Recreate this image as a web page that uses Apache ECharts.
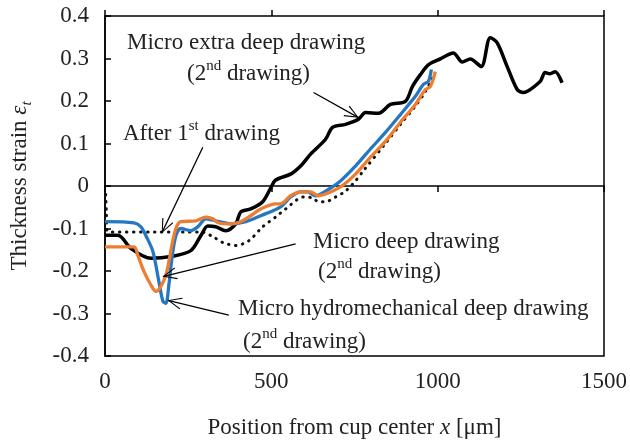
<!DOCTYPE html>
<html>
<head>
<meta charset="utf-8">
<script src="https://cdn.jsdelivr.net/npm/echarts@6/dist/echarts.min.js"></script>
<style>
html,body{margin:0;padding:0;background:#fff;}
#c{width:630px;height:444px;}
</style>
</head>
<body>
<div id="c"></div>
<script>
// ---- data (x in μm, thickness strain) ----
const extraDeep = [[0,-0.116],[39,-0.116],[78,-0.147],[138,-0.170],[198,-0.166],[258,-0.152],[288,-0.117],[309,-0.094],[333,-0.096],[363,-0.105],[393,-0.089],[408,-0.061],[438,-0.054],[474,-0.037],[498,-0.005],[513,0.014],[558,0.028],[588,0.047],[618,0.075],[663,0.110],[684,0.138],[723,0.145],[762,0.157],[783,0.173],[822,0.171],[858,0.192],[903,0.199],[924,0.234],[948,0.262],[972,0.285],[1008,0.299],[1047,0.313],[1074,0.292],[1098,0.299],[1131,0.281],[1158,0.349],[1179,0.337],[1209,0.281],[1239,0.227],[1257,0.220],[1308,0.246],[1323,0.267],[1338,0.264],[1353,0.269],[1374,0.243]];
const hydroDeep = [[0,-0.084],[87,-0.087],[108,-0.096],[123,-0.117],[144,-0.154],[162,-0.225],[174,-0.271],[183,-0.276],[192,-0.233],[201,-0.171],[213,-0.117],[228,-0.100],[258,-0.105],[279,-0.096],[303,-0.077],[333,-0.082],[378,-0.089],[423,-0.084],[468,-0.070],[528,-0.049],[558,-0.026],[588,-0.014],[609,-0.014],[633,-0.023],[663,-0.012],[708,0.012],[753,0.047],[798,0.087],[843,0.126],[888,0.168],[933,0.211],[957,0.239],[972,0.246],[981,0.274]];
const microDeep = [[0,-0.143],[87,-0.143],[99,-0.164],[117,-0.201],[138,-0.233],[153,-0.248],[168,-0.236],[183,-0.210],[192,-0.178],[201,-0.140],[213,-0.100],[228,-0.084],[273,-0.082],[303,-0.073],[324,-0.077],[342,-0.087],[378,-0.089],[408,-0.084],[438,-0.070],[468,-0.054],[513,-0.042],[528,-0.042],[558,-0.023],[588,-0.014],[618,-0.014],[642,-0.023],[663,-0.019],[708,-0.002],[753,0.028],[798,0.068],[843,0.105],[888,0.150],[933,0.192],[963,0.227],[978,0.234],[993,0.269]];
const firstDrawing = [[2,-0.02],[4,-0.06],[6,-0.105],[15,-0.108],[150,-0.108],[288,-0.108],[324,-0.119],[354,-0.133],[393,-0.140],[432,-0.129],[474,-0.096],[513,-0.073],[543,-0.054],[597,-0.026],[624,-0.028],[642,-0.037],[663,-0.037],[693,-0.026],[723,-0.012],[753,0.012],[774,0.033],[843,0.100],[888,0.145],[933,0.188],[963,0.222],[990,0.262]];
// annotation arrows: [from, to] in data coordinates
const arrowLines = [
  [[627,0.220],[762,0.161]],
  [[294,0.091],[171,-0.110]],
  [[573,-0.136],[174,-0.213]],
  [[372,-0.304],[189,-0.269]]
];
const xTicks = {min:0, max:1500, interval:500};
const yTicks = {min:-0.4, max:0.4, interval:0.1};

const FONT = '"Liberation Serif","Times New Roman",serif';
const TXT = '#222';
const chevron = 'path://M0,0 L0.01,0 L0.01,0.01 Z M0,14 L6,28 L5,28.6 L0,16.4 L-5,28.6 L-6,28 Z';

const chart = echarts.init(document.getElementById('c'), null, {renderer:'canvas'});

const rich = {
  n:{fontFamily:FONT,fontSize:23,color:TXT,lineHeight:26,verticalAlign:'bottom'},
  s:{fontFamily:FONT,fontSize:15,color:TXT,lineHeight:26,verticalAlign:'top',padding:[0,0,0,0]}
};
function txt(left, cy, str){
  return {type:'text', left:left, top:cy-13, silent:true,
    style:{text:str, rich:rich, font:'23px '+FONT, fill:TXT}};
}

const option = {
  animation:false,
  backgroundColor:'#fff',
  grid:{left:104,right:26,top:16,bottom:86,show:true,borderColor:'#000',borderWidth:1.5,backgroundColor:'transparent'},
  xAxis:[
    {type:'value',min:xTicks.min,max:xTicks.max,interval:xTicks.interval,position:'bottom',
     axisLine:{show:false,onZero:false},axisTick:{show:false},splitLine:{show:false},
     axisLabel:{margin:14,fontFamily:FONT,fontSize:23,color:TXT,formatter:v=>String(v)},
     name:'{n|Position from cup center }{i|x}{n| [μm]}',nameLocation:'middle',nameGap:60,
     nameTextStyle:{rich:{n:{fontFamily:FONT,fontSize:23,color:TXT},i:{fontFamily:FONT,fontSize:23,fontStyle:'italic',color:TXT}}}},
    {type:'value',min:xTicks.min,max:xTicks.max,interval:xTicks.interval,
     axisLine:{show:true,onZero:true,lineStyle:{color:'#000',width:1.5}},
     axisTick:{show:true,inside:true,length:6,lineStyle:{color:'#000',width:1.5}},
     axisLabel:{show:false},splitLine:{show:false}},
    {type:'value',min:xTicks.min,max:xTicks.max,interval:xTicks.interval,
     axisLine:{show:false,onZero:true},
     axisTick:{show:true,inside:false,length:6,lineStyle:{color:'#000',width:1.5}},
     axisLabel:{show:false},splitLine:{show:false}}
  ],
  yAxis:{type:'value',min:yTicks.min,max:yTicks.max,interval:yTicks.interval,
    axisLine:{show:true,onZero:false,lineStyle:{color:'#000',width:1.5}},
    axisTick:{show:true,inside:true,length:6,lineStyle:{color:'#000',width:1.5}},
    splitLine:{show:false},
    axisLabel:{margin:16,fontFamily:FONT,fontSize:23,color:TXT},
    name:'{n|Thickness strain }{e|ε}{t|t}',nameLocation:'middle',nameGap:74,nameRotate:90,
    nameTextStyle:{rich:{
      n:{fontFamily:FONT,fontSize:23,color:TXT,lineHeight:26,verticalAlign:'bottom'},
      e:{fontFamily:FONT,fontSize:23,fontStyle:'italic',color:TXT,lineHeight:26,verticalAlign:'bottom'},
      t:{fontFamily:FONT,fontSize:15,fontStyle:'italic',color:TXT,lineHeight:18,verticalAlign:'bottom',padding:[0,0,-4,0]}
    }}},
  series:[
    {name:'After 1st drawing',type:'line',data:firstDrawing,showSymbol:false,smooth:0.3,
     lineStyle:{color:'#111',width:3,type:[0.5,6.5],cap:'round'}},
    {name:'Micro extra deep drawing',type:'line',data:extraDeep,showSymbol:false,smooth:0.3,
     lineStyle:{color:'#000',width:3.5}},
    {name:'Micro hydromechanical deep drawing',type:'line',data:hydroDeep,showSymbol:false,smooth:0.3,
     lineStyle:{color:'#2677C2',width:3.3}},
    {name:'Micro deep drawing',type:'line',data:microDeep,showSymbol:false,smooth:0.3,
     lineStyle:{color:'#ED7D31',width:3.3},
     markLine:{silent:true,animation:false,symbol:['none',chevron],symbolSize:[12,28],
       label:{show:false},lineStyle:{color:'#000',width:1.3,type:'solid'},
       emphasis:{disabled:true},
       data:arrowLines.map(a=>[{coord:a[0]},{coord:a[1]}])}}
  ],
  graphic:[
    txt(127,44,'{n|Micro extra deep drawing}'),
    txt(187,72,'{n|(2}{s|nd}{n| drawing)}'),
    txt(123,132,'{n|After 1}{s|st}{n| drawing}'),
    txt(313,243,'{n|Micro deep drawing}'),
    txt(318,270,'{n|(2}{s|nd}{n| drawing)}'),
    txt(238,310,'{n|Micro hydromechanical deep drawing}'),
    txt(243,340,'{n|(2}{s|nd}{n| drawing)}')
  ]
};
chart.setOption(option);
</script>
</body>
</html>
